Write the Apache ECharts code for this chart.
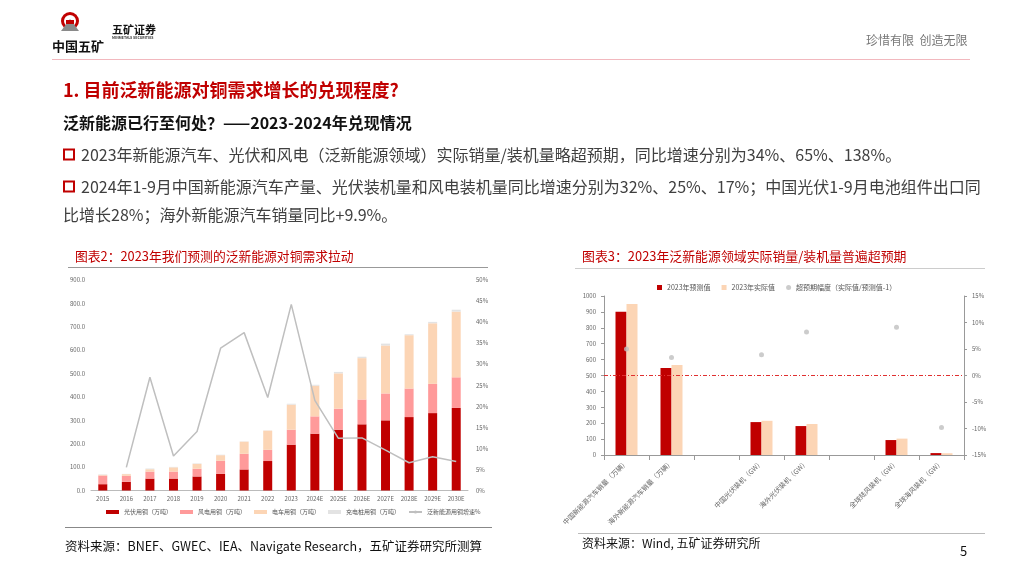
<!DOCTYPE html>
<html><head><meta charset="utf-8">
<script src="https://cdn.jsdelivr.net/npm/echarts@6/dist/echarts.min.js"></script>
<style>html,body{margin:0;padding:0;background:#fff}#c{width:1024px;height:576px}</style>
</head><body><div id="c"></div>
<script>
// ---- Chart 2 data ----
const years = ['2015','2016','2017','2018','2019','2020','2021','2022','2023','2024E','2025E','2026E','2027E','2028E','2029E','2030E'];
const pvCopper    = [27, 37, 51, 51, 60, 71, 90, 126, 196, 243, 260, 283, 300, 314, 331, 353];
const windCopper  = [37, 26, 30, 30, 33, 56, 67, 48, 64, 74, 90, 106, 115, 122, 125, 131];
const evCopper    = [3, 7, 10, 18, 21, 24, 52, 82, 107, 131, 151, 177, 205, 228, 259, 281];
const pileCopper  = [2, 1, 3, 2, 2, 2, 1, 1, 4, 4, 6, 6, 8, 4, 6, 8];
const growthPct   = [null, 5.5, 26.9, 8.2, 14.0, 33.8, 37.5, 22.1, 44.2, 21.4, 12.4, 12.5, 9.6, 6.6, 8.0, 6.9];
const leftTicks2  = ['0.0','100.0','200.0','300.0','400.0','500.0','600.0','700.0','800.0','900.0'];
// ---- Chart 3 data ----
const fields = ['中国新能源汽车销量（万辆）','海外新能源汽车销量（万辆）','','中国光伏装机（GW）','海外光伏装机（GW）','','全球陆风装机（GW）','全球海风装机（GW）'];
const predicted = [901, 547, null, 207, 182, null, 94, 12];
const actual    = [950, 566, null, 215, 195, null, 103, 11];
const beatPct   = [5.0, 3.4, null, 3.9, 8.2, null, 9.1, -9.8];

const CJK = '"Noto Sans CJK SC","Noto Sans",sans-serif';
const RED = '#c00000';
const chart = echarts.init(document.getElementById('c'));

function txt(x, y, s, size, color, weight, extra) {
  return Object.assign({type:'text', x:x, y:y, style:{text:s, font:(weight||'normal')+' '+size+'px '+CJK, fill:color, textVerticalAlign:'middle'}}, extra||{});
}
function line(x1,y1,x2,y2,color,w){return {type:'line',shape:{x1:x1,y1:y1,x2:x2,y2:y2},style:{stroke:color,lineWidth:w||1}};}

const graphics = [
  // logo
  {type:'circle', shape:{cx:70, cy:21, r:9}, style:{fill:RED}},
  {type:'circle', shape:{cx:70, cy:21, r:6}, style:{fill:'#fff'}},
  {type:'polygon', shape:{points:[[61,31],[70,19],[79,31]]}, style:{fill:'#8a8a8a'}},
  {type:'rect', shape:{x:66,y:20,width:8,height:4}, style:{fill:RED}},
  txt(52, 46, '中国五矿', 13, '#111', 'bold'),
  txt(112, 30, '五矿证券', 11, '#111', 'bold'),
  txt(112, 38, 'MINMETALS SECURITIES', 3.5, '#333', 'bold'),
  txt(866, 40, '珍惜有限  创造无限', 12, '#777'),
  line(52, 59.5, 970, 59.5, '#f2b8be', 1),
  // headings
  txt(63, 90, '1. 目前泛新能源对铜需求增长的兑现程度?', 18, RED, 'bold'),
  txt(63, 123, '泛新能源已行至何处？——2023-2024年兑现情况', 16, '#111', 'bold'),
  {type:'rect', shape:{x:64, y:149.5, width:10, height:10}, style:{fill:'none', stroke:RED, lineWidth:2}},
  txt(81, 155, '2023年新能源汽车、光伏和风电（泛新能源领域）实际销量/装机量略超预期，同比增速分别为34%、65%、138%。', 16, '#404040'),
  {type:'rect', shape:{x:64, y:181.5, width:10, height:10}, style:{fill:'none', stroke:RED, lineWidth:2}},
  txt(81, 187, '2024年1-9月中国新能源汽车产量、光伏装机量和风电装机量同比增速分别为32%、25%、17%；中国光伏1-9月电池组件出口同', 16, '#404040'),
  txt(63, 215, '比增长28%；海外新能源汽车销量同比+9.9%。', 16, '#404040'),
  // chart titles
  txt(75, 256, '图表2：2023年我们预测的泛新能源对铜需求拉动', 12.8, RED),
  line(68, 267.5, 488, 267.5, '#999', 1),
  txt(582, 256, '图表3：2023年泛新能源领域实际销量/装机量普遍超预期', 12.9, RED),
  line(575, 268.5, 985, 268.5, '#ccc', 1),
  // sources
  line(65, 527.5, 492, 527.5, '#888', 1),
  txt(65, 546, '资料来源：BNEF、GWEC、IEA、Navigate Research，五矿证券研究所测算', 12.5, '#111'),
  line(578, 533.5, 985, 533.5, '#bbb', 1),
  txt(582, 543, '资料来源：Wind, 五矿证券研究所', 12, '#111'),
  txt(960, 551, '5', 13, '#111')
];

const small = {fontSize:6, color:'#666', fontFamily:CJK};

const option = {
  animation:false,
  textStyle:{fontFamily:CJK},
  graphic: graphics,
  legend: [
    {left:101, top:504, itemWidth:13, itemHeight:4, itemGap:8, textStyle:{fontSize:6, color:'#555'},
     data:[{name:'光伏用铜（万吨）',icon:'rect'},{name:'风电用铜（万吨）',icon:'rect'},{name:'电车用铜（万吨）',icon:'rect'},{name:'充电桩用铜（万吨）',icon:'rect'},{name:'泛新能源用铜增速%'}]},
    {left:652, top:279, itemWidth:5, itemHeight:5, itemGap:11, textStyle:{fontSize:7, color:'#555'},
     data:[{name:'2023年预测值',icon:'rect'},{name:'2023年实际值',icon:'rect'},{name:'超预期幅度（实际值/预测值-1）',icon:'circle'}]}
  ],
  grid: [
    {left:91, top:280, width:377, height:210.5},
    {left:604, top:296, width:360, height:159}
  ],
  xAxis: [
    {type:'category', gridIndex:0, data:years, axisLine:{lineStyle:{color:'#bbb'}}, axisTick:{show:false}, axisLabel:Object.assign({interval:0, margin:5}, small)},
    {type:'category', gridIndex:1, data:fields, axisLine:{lineStyle:{color:'#999'}}, axisTick:{show:true, interval:0, lineStyle:{color:'#999'}}, axisLabel:Object.assign({}, small, {interval:0, rotate:45, margin:6, fontSize:6.8})}
  ],
  yAxis: [
    {type:'value', gridIndex:0, min:0, max:900, interval:100, splitLine:{show:false}, axisLine:{show:false}, axisTick:{show:false},
     axisLabel:Object.assign({margin:6, formatter:(v)=>leftTicks2[Math.round(v/100)]}, small)},
    {type:'value', gridIndex:0, min:0, max:50, interval:5, position:'right', splitLine:{show:false}, axisLine:{show:false}, axisTick:{show:false},
     axisLabel:Object.assign({margin:8, formatter:'{value}%'}, small)},
    {type:'value', gridIndex:1, min:0, max:1000, interval:100, splitLine:{show:false}, axisLine:{show:true, lineStyle:{color:'#999'}}, axisTick:{show:true, length:3, lineStyle:{color:'#999'}},
     axisLabel:Object.assign({margin:8, formatter:(v)=>String(v)}, small)},
    {type:'value', gridIndex:1, min:-15, max:15, interval:5, position:'right', splitLine:{show:false}, axisLine:{show:true, lineStyle:{color:'#999'}}, axisTick:{show:true, length:3, lineStyle:{color:'#999'}},
     axisLabel:Object.assign({margin:8, formatter:'{value}%'}, small)}
  ],
  series: [
    {name:'光伏用铜（万吨）', type:'bar', stack:'cu', xAxisIndex:0, yAxisIndex:0, barWidth:9, data:pvCopper, itemStyle:{color:RED}},
    {name:'风电用铜（万吨）', type:'bar', stack:'cu', xAxisIndex:0, yAxisIndex:0, barWidth:9, data:windCopper, itemStyle:{color:'#ff9a9a'}},
    {name:'电车用铜（万吨）', type:'bar', stack:'cu', xAxisIndex:0, yAxisIndex:0, barWidth:9, data:evCopper, itemStyle:{color:'#fcd5b5'}},
    {name:'充电桩用铜（万吨）', type:'bar', stack:'cu', xAxisIndex:0, yAxisIndex:0, barWidth:9, data:pileCopper, itemStyle:{color:'#e3e3e3'}},
    {name:'泛新能源用铜增速%', type:'line', xAxisIndex:0, yAxisIndex:1, data:growthPct, symbol:'none', lineStyle:{color:'#bfbfbf', width:1.5}, itemStyle:{color:'#bfbfbf'}},
    {name:'2023年预测值', type:'bar', xAxisIndex:1, yAxisIndex:2, barWidth:11, barGap:'0%', data:predicted, itemStyle:{color:RED}},
    {name:'2023年实际值', type:'bar', xAxisIndex:1, yAxisIndex:2, barWidth:11, barGap:'0%', data:actual, itemStyle:{color:'#fcd5b5'}},
    {name:'超预期幅度（实际值/预测值-1）', type:'scatter', xAxisIndex:1, yAxisIndex:3, symbolSize:5, data:beatPct, itemStyle:{color:'#bfbfbf'},
     markLine:{silent:true, symbol:'none', label:{show:false}, lineStyle:{color:'#e03030', type:[4,2,1,2], width:1}, data:[{yAxis:0}]}}
  ]
};
chart.setOption(option);
</script></body></html>
